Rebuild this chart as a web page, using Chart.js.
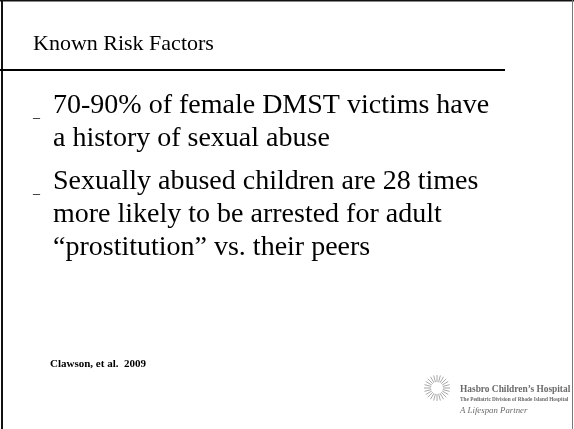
<!DOCTYPE html>
<html>
<head>
<meta charset="utf-8">
<script src="https://cdn.jsdelivr.net/npm/chart.js@4.4.0/dist/chart.umd.min.js"></script>
<style>
  html, body { margin: 0; padding: 0; background: #fff; }
  #wrap { width: 574px; height: 429px; }
  #probe { font-family: "Liberation Serif"; position: absolute; left: -999px; }
</style>
</head>
<body>
<span id="probe">Aa <b>Bb</b> <i>Cc</i></span>
<div id="wrap"><canvas id="slide" width="574" height="429"></canvas></div>
<script>
// Slide content
const slideTitle = "Known Risk Factors";
const bulletItems = [
    ["70-90% of female DMST victims have", "a history of sexual abuse"],
    ["Sexually abused children are 28 times", "more likely to be arrested for adult", "\u201Cprostitution\u201D vs. their peers"]
];
const citation = "Clawson, et al.  2009";
const logoName = "Hasbro Children\u2019s Hospital";
const logoSub = "The Pediatric Division of Rhode Island Hospital";
const logoTag = "A Lifespan Partner";

const SERIF = "'Liberation Serif', 'Times New Roman', Times, serif";

// Plugin qui dessine la diapositive
const slidePlugin = {
    id: "slide",
    afterDraw(chart) {
        const ctx = chart.ctx;
        ctx.save();

        // cadre
        ctx.fillStyle = "#111";
        ctx.fillRect(1, 0, 2, 429);
        ctx.fillRect(0, 0, 574, 1.5);
        ctx.fillStyle = "#777";
        ctx.fillRect(572, 0, 1, 429);

        // titre + filet
        ctx.fillStyle = "#000";
        ctx.textBaseline = "alphabetic";
        ctx.font = "22px " + SERIF;
        ctx.fillText(slideTitle, 33, 50);
        ctx.fillRect(0, 69, 505, 2);

        // puces
        let y = 113;
        bulletItems.forEach(lines => {
            ctx.font = "14px " + SERIF;
            ctx.fillText("_", 33, y + 4);
            ctx.font = "28px " + SERIF;
            lines.forEach(line => {
                ctx.fillText(line, 53, y);
                y += 33;
            });
            y += 10;
        });

        // référence
        ctx.font = "bold 11px " + SERIF;
        ctx.fillText(citation, 50, 367);

        // logo
        const cx = 437, cy = 388;
        ctx.strokeStyle = "#a8a8a8";
        ctx.lineWidth = 1;
        for (let i = 0; i < 24; i++) {
            const a = i * Math.PI * 2 / 24;
            ctx.beginPath();
            ctx.moveTo(cx + Math.cos(a) * 6, cy + Math.sin(a) * 6);
            ctx.lineTo(cx + Math.cos(a) * 13, cy + Math.sin(a) * 13);
            ctx.stroke();
        }
        ctx.fillStyle = "#6a6a6a";
        ctx.font = "bold 9.4px " + SERIF;
        ctx.fillText(logoName, 460, 392);
        ctx.font = "bold 5.3px " + SERIF;
        ctx.fillText(logoSub, 460, 401);
        ctx.font = "italic 8.8px " + SERIF;
        ctx.fillText(logoTag, 460, 413);

        ctx.restore();
    }
};

function draw() {
    new Chart(document.getElementById("slide"), {
        type: "scatter",
        data: { datasets: [] },
        options: {
            responsive: false,
            animation: false,
            devicePixelRatio: 1,
            plugins: { legend: { display: false }, tooltip: { enabled: false } },
            scales: { x: { display: false }, y: { display: false } }
        },
        plugins: [slidePlugin]
    });
}

Promise.all([
    document.fonts.load("28px 'Liberation Serif'"),
    document.fonts.load("bold 12px 'Liberation Serif'"),
    document.fonts.load("italic 8px 'Liberation Serif'")
]).then(draw, draw);
</script>
</body>
</html>
